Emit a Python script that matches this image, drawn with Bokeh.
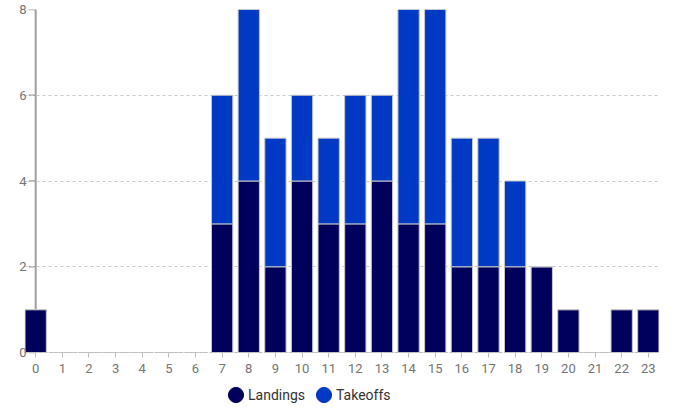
from bokeh.plotting import figure
from bokeh.models import (ColumnDataSource, Range1d, FixedTicker, Legend, LegendItem, LinearAxis)
from bokeh.embed import file_html
from bokeh.resources import INLINE

hours = list(range(24))
hour_labels = [str(h) for h in hours]
landings = [1, 0, 0, 0, 0, 0, 0, 3, 4, 2, 4, 3, 3, 4, 3, 3, 2, 2, 2, 2, 1, 0, 1, 1]
takeoffs = [0, 0, 0, 0, 0, 0, 0, 3, 4, 3, 2, 2, 3, 2, 5, 5, 3, 3, 2, 0, 0, 0, 0, 0]
y_ticks = [0, 2, 4, 6, 8]
series = ["Landings", "Takeoffs"]
colors = ["#00005c", "#0039c4"]

FONT = "Roboto"
Y_MAX = 8
# frame extends below zero to leave room for axis labels and legend inside the frame
Y_MIN = -Y_MAX * (398 / 343 - 1)

source = ColumnDataSource(dict(hours=hours, Landings=landings, Takeoffs=takeoffs))

p = figure(width=665, height=407, output_backend="svg", toolbar_location=None,
           x_range=Range1d(-0.42, 23.42), y_range=Range1d(Y_MIN, Y_MAX),
           x_axis_location=None,
           min_border_left=24, min_border_right=6, min_border_top=9, min_border_bottom=0)
p.outline_line_color = None
p.background_fill_color = "white"

# vertical axis line at x = 0 (under the bars) and its small tick marks
p.segment(x0=[0], x1=[0], y0=[0], y1=[Y_MAX], line_color="#9e9e9e", line_width=2, level="underlay")
p.segment(x0=[-0.26] * len(y_ticks), x1=[0] * len(y_ticks), y0=y_ticks, y1=y_ticks,
          line_color="#9e9e9e", line_width=1.5, level="underlay")

renderers = p.vbar_stack(series, x="hours", width=0.8, source=source,
                         fill_color=colors, line_color="#c8c8c8", line_width=1)

# grid
p.xgrid.visible = False
p.ygrid.ticker = FixedTicker(ticks=y_ticks)
p.ygrid.grid_line_color = "#c8c8c8"
p.ygrid.grid_line_dash = "3 3"
p.ygrid.grid_line_width = 1

# x axis fixed at y = 0
xa = LinearAxis(fixed_location=0)
xa.ticker = FixedTicker(ticks=hours)
xa.major_label_overrides = {h: l for h, l in zip(hours, hour_labels)}
xa.axis_line_color = "#bdbdbd"
xa.axis_line_dash = "3 2"
xa.major_tick_line_color = "#bdbdbd"
xa.major_tick_out = 5
xa.major_tick_in = 0
xa.minor_tick_line_color = None
xa.major_label_standoff = 6
xa.major_label_text_font = FONT
xa.major_label_text_font_size = "13px"
xa.major_label_text_color = "#757575"
p.add_layout(xa, "below")

# y axis (labels only)
ya = p.yaxis[0]
ya.ticker = FixedTicker(ticks=y_ticks)
ya.axis_line_color = None
ya.major_tick_line_color = None
ya.minor_tick_line_color = None
ya.major_tick_out = 0
ya.major_tick_in = 0
ya.major_label_standoff = -2
ya.major_label_text_font = FONT
ya.major_label_text_font_size = "13px"
ya.major_label_text_color = "#757575"

# legend with circle markers (legend-only glyphs, no visible data)
nan = float("nan")
legend_marks = [p.ellipse(x=[nan], y=[nan], width=10, height=10,
                          width_units="screen", height_units="screen",
                          fill_color=c, line_color=c)
                for c in colors]
legend = Legend(items=[LegendItem(label=s, renderers=[r]) for s, r in zip(series, legend_marks)],
                orientation="horizontal", location=(202, 3),
                glyph_width=19, glyph_height=19, label_standoff=3, spacing=9,
                padding=0, margin=0, border_line_color=None, background_fill_alpha=0,
                label_text_font=FONT, label_text_font_size="14px", label_text_color="#333333")
p.add_layout(legend, "center")

open("out.html", "w").write(file_html(p, INLINE))
